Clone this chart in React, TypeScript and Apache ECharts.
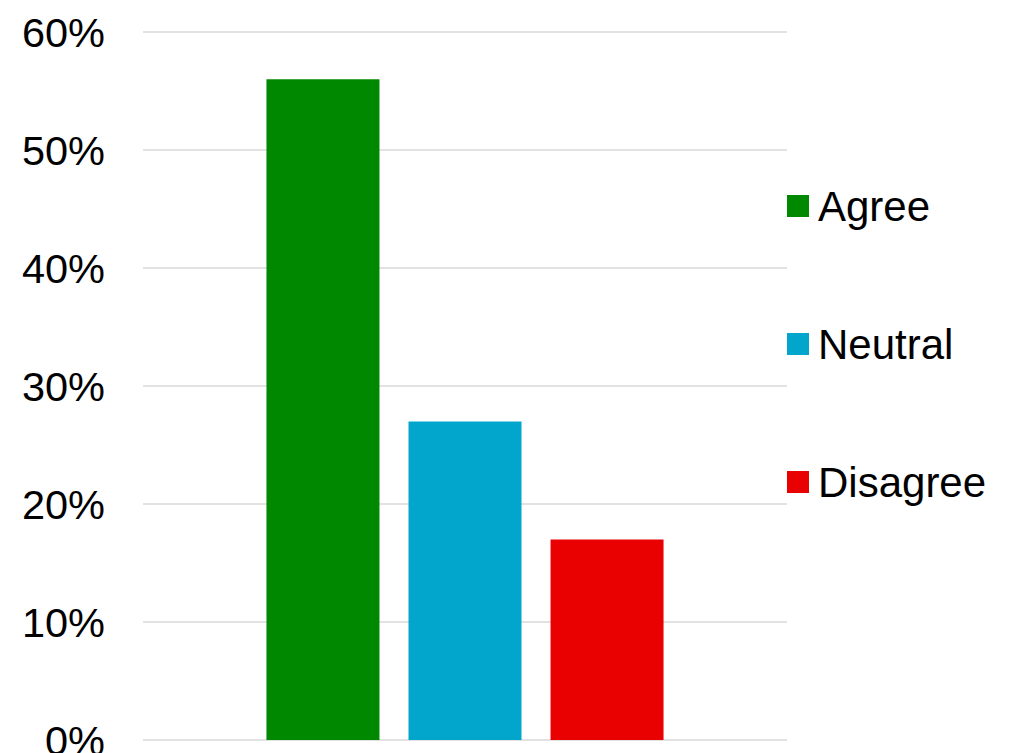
import React, { useEffect, useRef } from "react";
import * as echarts from "echarts";

// Survey response shares (fraction of respondents)
const responseLabels = ["Agree", "Neutral", "Disagree"];
const responseShares = [0.56, 0.27, 0.17];
const responseColors = ["#008800", "#02a6cc", "#e90000"];
const categories = [""];

const FONT = "'Liberation Sans', Arial, sans-serif";

export default function App() {
  const ref = useRef<HTMLDivElement>(null);

  useEffect(() => {
    if (!ref.current) return;
    const chart = echarts.init(ref.current, undefined, { renderer: "svg" });

    const series = responseLabels.map((name, i) => ({
      name,
      type: "bar" as const,
      data: [responseShares[i]],
      barWidth: 113,
      barGap: "25.7%",
      itemStyle: { color: responseColors[i] },
    }));

    chart.setOption({
      animation: false,
      backgroundColor: "#ffffff",
      textStyle: { fontFamily: FONT },
      // the plot area runs to the bottom edge, letting the 0% label overflow
      grid: {
        left: 143,
        right: 233,
        top: 32,
        bottom: 13,
        containLabel: false,
        outerBoundsMode: "none",
      },
      legend: {
        orient: "vertical",
        left: 787,
        top: 185,
        padding: 0,
        itemWidth: 22,
        itemHeight: 22,
        itemGap: 96,
        icon: "rect",
        data: responseLabels,
        textStyle: {
          fontFamily: FONT,
          fontSize: 42,
          lineHeight: 42,
          color: "#000000",
          padding: [0, 0, 0, 4],
        },
      },
      xAxis: {
        type: "category",
        data: categories,
        axisLine: { show: false },
        axisTick: { show: false },
        axisLabel: { show: false },
        splitLine: { show: false },
      },
      yAxis: {
        type: "value",
        min: 0,
        max: 0.6,
        interval: 0.1,
        axisLine: { show: false },
        axisTick: { show: false },
        axisLabel: {
          margin: 38,
          fontFamily: FONT,
          fontSize: 41.5,
          color: "#000000",
          formatter: (v: number) => `${Math.round(v * 100)}%`,
        },
        splitLine: { show: true, lineStyle: { color: "#d9d9d9", width: 1.5 } },
      },
      series,
    });

    return () => chart.dispose();
  }, []);

  return (
    <div
      ref={ref}
      style={{ position: "fixed", left: 0, top: 0, width: 1020, height: 753, background: "#fff" }}
    />
  );
}
